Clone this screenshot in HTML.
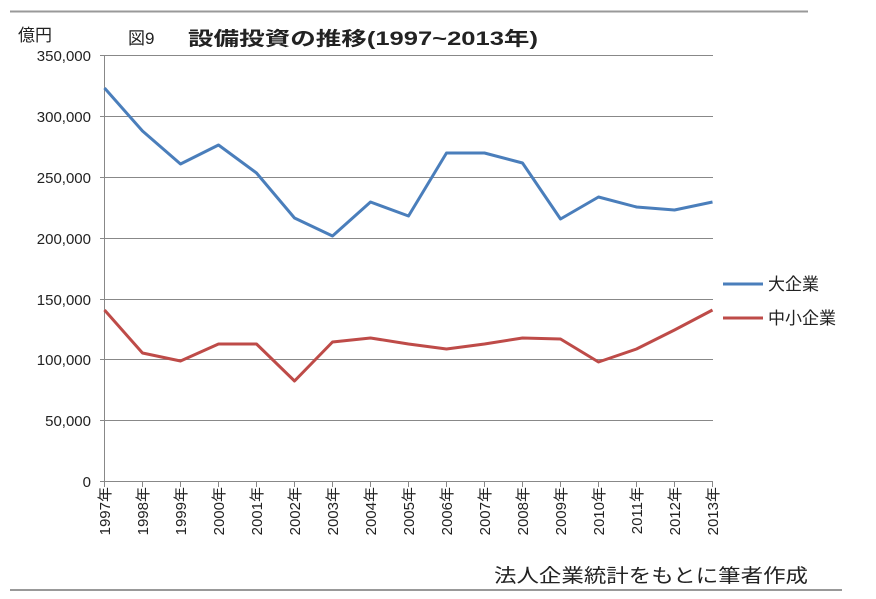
<!DOCTYPE html>
<html><head><meta charset="utf-8"><style>body{margin:0;background:#fff}svg{display:block}</style></head><body>
<svg width="876" height="599" xmlns="http://www.w3.org/2000/svg" font-family="'Liberation Sans','Noto Sans CJK JP',sans-serif">
<line x1="10" y1="11.5" x2="808" y2="11.5" stroke="#999" stroke-width="2"/>
<line x1="10" y1="590" x2="842" y2="590" stroke="#999" stroke-width="2"/>
<text x="18" y="41" font-size="17" fill="#222">億円</text>
<text x="128" y="44" font-size="17" fill="#222">図9</text>
<text x="188" y="45" font-size="19" font-weight="bold" fill="#222" textLength="350" lengthAdjust="spacingAndGlyphs">設備投資の推移(1997~2013年)</text>
<g stroke="#888" stroke-width="1">
<line x1="100" y1="55.5" x2="713" y2="55.5"/><line x1="100" y1="116.5" x2="713" y2="116.5"/><line x1="100" y1="177.5" x2="713" y2="177.5"/><line x1="100" y1="238.5" x2="713" y2="238.5"/><line x1="100" y1="299.5" x2="713" y2="299.5"/><line x1="100" y1="359.5" x2="713" y2="359.5"/><line x1="100" y1="420.5" x2="713" y2="420.5"/><line x1="100" y1="481.5" x2="713" y2="481.5"/>
<line x1="104.5" y1="55" x2="104.5" y2="487"/>
</g>
<g stroke="#888"><path d="M104.5 481v6M142.5 481v6M180.5 481v6M218.5 481v6M256.5 481v6M294.5 481v6M332.5 481v6M370.5 481v6M408.5 481v6M446.5 481v6M484.5 481v6M522.5 481v6M560.5 481v6M598.5 481v6M636.5 481v6M674.5 481v6M712.5 481v6"/></g>
<g font-size="15" fill="#222" text-anchor="end">
<text x="91" y="61">350,000</text><text x="91" y="122">300,000</text><text x="91" y="183">250,000</text><text x="91" y="244">200,000</text><text x="91" y="305">150,000</text><text x="91" y="365">100,000</text><text x="91" y="426">50,000</text><text x="91" y="487">0</text>
</g>
<g font-size="15" fill="#222" text-anchor="end">
<text transform="translate(110,487) rotate(-90)">1997年</text><text transform="translate(148,487) rotate(-90)">1998年</text><text transform="translate(186,487) rotate(-90)">1999年</text><text transform="translate(224,487) rotate(-90)">2000年</text><text transform="translate(262,487) rotate(-90)">2001年</text><text transform="translate(300,487) rotate(-90)">2002年</text><text transform="translate(338,487) rotate(-90)">2003年</text><text transform="translate(376,487) rotate(-90)">2004年</text><text transform="translate(414,487) rotate(-90)">2005年</text><text transform="translate(452,487) rotate(-90)">2006年</text><text transform="translate(490,487) rotate(-90)">2007年</text><text transform="translate(528,487) rotate(-90)">2008年</text><text transform="translate(566,487) rotate(-90)">2009年</text><text transform="translate(604,487) rotate(-90)">2010年</text><text transform="translate(642,487) rotate(-90)">2011年</text><text transform="translate(680,487) rotate(-90)">2012年</text><text transform="translate(718,487) rotate(-90)">2013年</text>
</g>
<polyline fill="none" stroke="#4a7ebb" stroke-width="3" stroke-linejoin="round" points="104.5,88 142.5,131 180.5,164 218.5,145 256.5,173 294.5,218 332.5,236 370.5,202 408.5,216 446.5,153 484.5,153 522.5,163 560.5,219 598.5,197 636.5,207 674.5,210 712.5,202"/>
<polyline fill="none" stroke="#be4b48" stroke-width="3" stroke-linejoin="round" points="104.5,310 142.5,353 180.5,361 218.5,344 256.5,344 294.5,381 332.5,342 370.5,338 408.5,344 446.5,349 484.5,344 522.5,338 560.5,339 598.5,362 636.5,349 674.5,330 712.5,310"/>
<line x1="723" y1="284" x2="763" y2="284" stroke="#4a7ebb" stroke-width="3"/>
<text x="768" y="290" font-size="17" fill="#222">大企業</text>
<line x1="723" y1="318" x2="763" y2="318" stroke="#be4b48" stroke-width="3"/>
<text x="768" y="324" font-size="17" fill="#222">中小企業</text>
<rect x="838" y="300" width="40" height="40" fill="#fff"/>
<text x="494" y="582" font-size="19" fill="#222" textLength="314" lengthAdjust="spacingAndGlyphs">法人企業統計をもとに筆者作成</text>
</svg>
</body></html>
